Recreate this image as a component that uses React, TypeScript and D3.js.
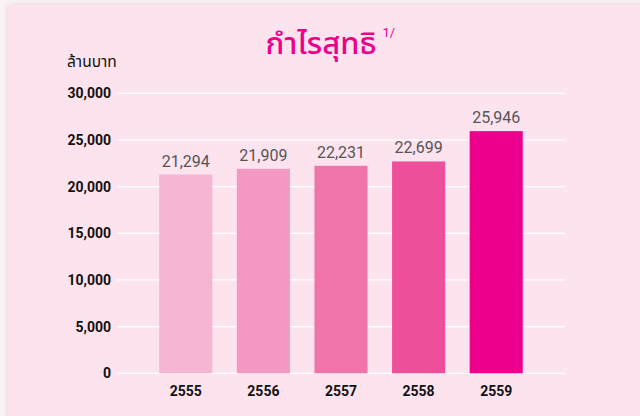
import { useRef, useEffect } from 'react';
import * as d3 from 'd3';

const years = ['2555', '2556', '2557', '2558', '2559'];
const profits = [21294, 21909, 22231, 22699, 25946];
const barColors = ['#f6b5d2', '#f499c3', '#f073a9', '#ee4f9a', '#ec008c'];
const yTicks = [0, 5000, 10000, 15000, 20000, 25000, 30000];

const W = 640;
const H = 416;

export default function App(): JSX.Element {
  const svgRef = useRef<SVGSVGElement | null>(null);

  useEffect(() => {
    if (!svgRef.current) return;
    const svg = d3.select(svgRef.current);
    svg.selectAll('*').remove();

    const x = d3.scaleBand<string>()
      .domain(years)
      .range([147, 535])
      .paddingInner(0.316)
      .paddingOuter(0.158);

    const y = d3.scaleLinear()
      .domain([0, 30000])
      .range([373.3, 93.3]);

    const fmt = d3.format(',');

    // page + panel
    const defs = svg.append('defs');
    const f = defs.append('filter').attr('id', 'shadow')
      .attr('x', -0.05).attr('y', -0.05).attr('width', 1.1).attr('height', 1.1);
    f.append('feDropShadow')
      .attr('dx', 0).attr('dy', 0).attr('stdDeviation', 3)
      .attr('flood-color', '#d8c8cf').attr('flood-opacity', 0.8);

    svg.append('rect').attr('width', W).attr('height', H).attr('fill', '#faf3f6');
    svg.append('rect')
      .attr('x', 8).attr('y', 5)
      .attr('width', W).attr('height', H)
      .attr('fill', '#fde3ee')
      .attr('filter', 'url(#shadow)');

    // title
    const title = svg.append('text')
      .attr('x', 321).attr('y', 54)
      .attr('text-anchor', 'middle')
      .attr('fill', '#ec008c')
      .style('font-family', '"Noto Sans Thai", "Noto Sans", sans-serif')
      .style('font-size', '31px')
      .style('font-weight', 500)
      .text('กำไรสุทธิ');
    const tb = (title.node() as SVGTextElement).getBBox();
    svg.append('text')
      .attr('x', tb.x + tb.width + 6).attr('y', 37)
      .attr('fill', '#ec008c')
      .style('font-family', 'Roboto, sans-serif')
      .style('font-size', '13px')
      .text('1/');

    // unit label
    svg.append('text')
      .attr('x', 67).attr('y', 67)
      .attr('fill', '#111')
      .style('font-family', '"Noto Sans Thai", "Noto Sans", sans-serif')
      .style('font-size', '15.5px')
      .text('ล้านบาท');

    // gridlines
    svg.append('g')
      .selectAll('line')
      .data(yTicks)
      .join('line')
      .attr('x1', 117).attr('x2', 565)
      .attr('y1', d => y(d)).attr('y2', d => y(d))
      .attr('stroke', '#ffffff')
      .attr('stroke-width', 1.2);

    // y tick labels
    svg.append('g')
      .selectAll('text')
      .data(yTicks)
      .join('text')
      .attr('x', 111)
      .attr('y', d => y(d) + 5)
      .attr('text-anchor', 'end')
      .attr('fill', '#111')
      .style('font-family', 'Roboto, sans-serif')
      .style('font-size', '14px')
      .style('font-weight', 700)
      .text(d => fmt(d));

    // bars
    svg.append('g')
      .selectAll('rect')
      .data(profits)
      .join('rect')
      .attr('x', (_, i) => x(years[i]) ?? 0)
      .attr('y', d => y(d))
      .attr('width', x.bandwidth())
      .attr('height', d => y(0) - y(d))
      .attr('fill', (_, i) => barColors[i]);

    // value labels
    svg.append('g')
      .selectAll('text')
      .data(profits)
      .join('text')
      .attr('x', (_, i) => (x(years[i]) ?? 0) + x.bandwidth() / 2)
      .attr('y', d => y(d) - 8)
      .attr('text-anchor', 'middle')
      .attr('fill', '#555')
      .style('font-family', 'Roboto, sans-serif')
      .style('font-size', '16px')
      .text(d => fmt(d));

    // year labels
    svg.append('g')
      .selectAll('text')
      .data(years)
      .join('text')
      .attr('x', d => (x(d) ?? 0) + x.bandwidth() / 2)
      .attr('y', 396)
      .attr('text-anchor', 'middle')
      .attr('fill', '#111')
      .style('font-family', 'Roboto, sans-serif')
      .style('font-size', '14px')
      .style('font-weight', 700)
      .text(d => d);
  }, []);

  return (
    <svg
      ref={svgRef}
      width={W}
      height={H}
      style={{ position: 'fixed', left: 0, top: 0, display: 'block' }}
    />
  );
}
